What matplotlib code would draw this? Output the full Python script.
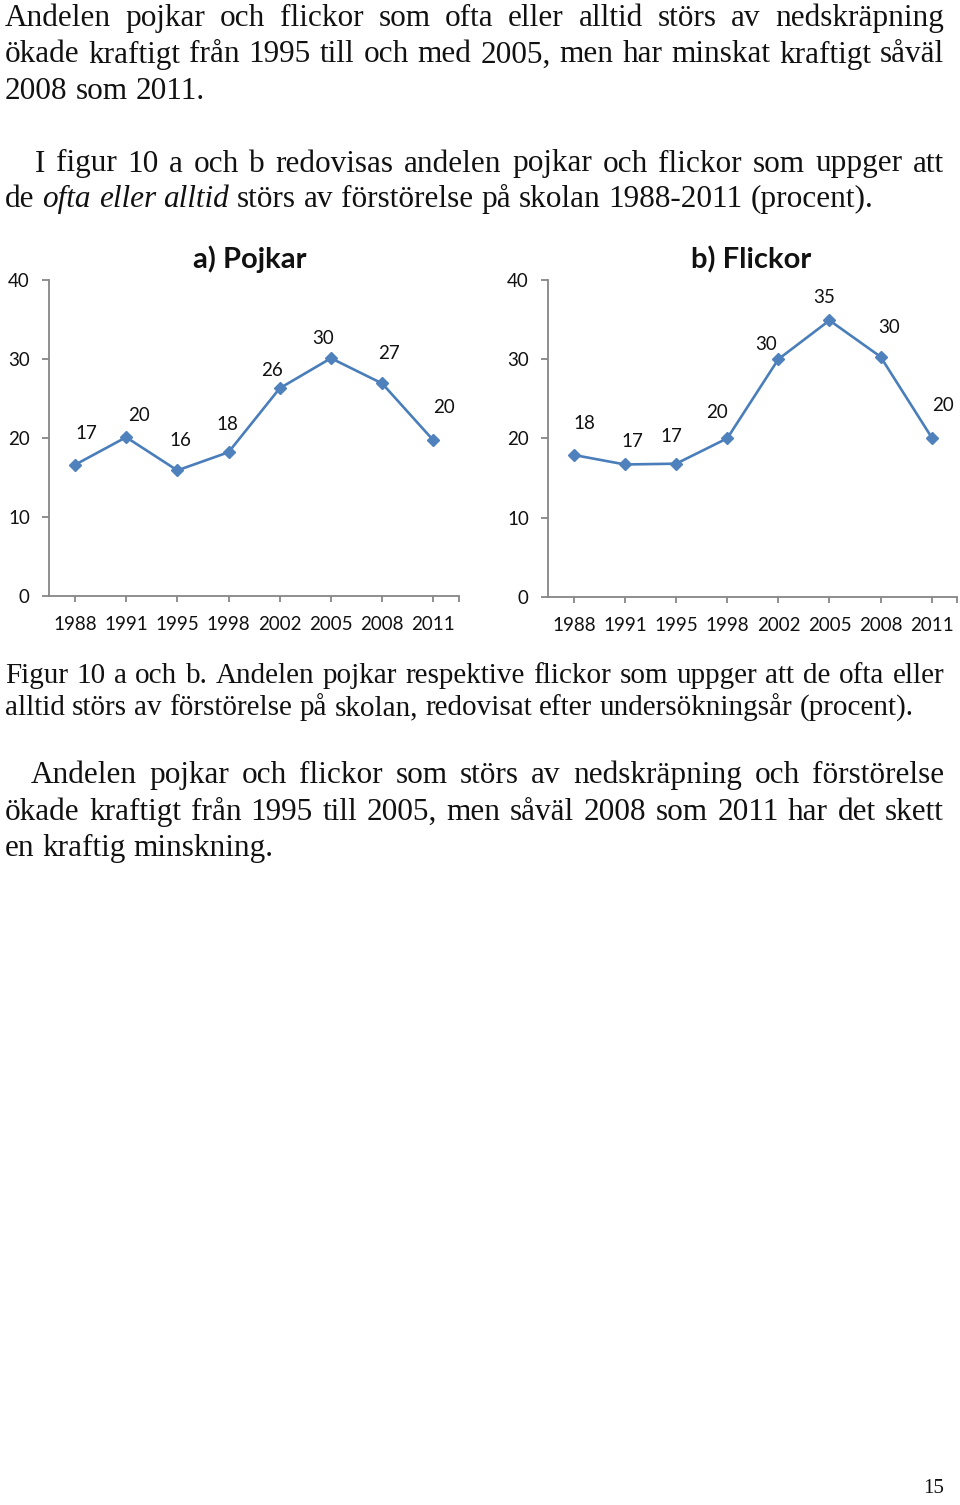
import numpy as np
import matplotlib
matplotlib.use("Agg")
import matplotlib.pyplot as plt

# data
years = ["1988", "1991", "1995", "1998", "2002", "2005", "2008", "2011"]
pojkar = [16.6, 20.1, 15.9, 18.2, 26.3, 30.1, 26.9, 19.7]
flickor = [17.9, 16.7, 16.8, 20.0, 30.0, 34.9, 30.3, 20.1]
pojkar_labels = ["17", "20", "16", "18", "26", "30", "27", "20"]
flickor_labels = ["18", "17", "17", "20", "30", "35", "30", "20"]
y_ticks = [0, 10, 20, 30, 40]

# page text, one entry per printed line
para1 = ["Andelen pojkar och flickor som ofta eller alltid störs av nedskräpning",
         "ökade kraftigt från 1995 till och med 2005, men har minskat kraftigt såväl",
         "2008 som 2011."]
para2 = ["I figur 10 a och b redovisas andelen pojkar och flickor som uppger att",
         "de *ofta eller alltid* störs av förstörelse på skolan 1988-2011 (procent)."]
caption = ["Figur 10 a och b. Andelen pojkar respektive flickor som uppger att de ofta eller",
           "alltid störs av förstörelse på skolan, redovisat efter undersökningsår (procent)."]
para3 = ["Andelen pojkar och flickor som störs av nedskräpning och förstörelse",
         "ökade kraftigt från 1995 till 2005, men såväl 2008 som 2011 har det skett",
         "en kraftig minskning."]

# label offsets in pixels (dx, up) from each marker
pojkar_off = [(11, 30), (13, 20), (3, 28), (-1, 26), (-8, 16), (-8, 18), (7, 28), (11, 31)]
flickor_off = [(11, 30), (7, 21), (-5, 26), (-10, 24), (-12, 13), (-5, 21), (8, 28), (11, 31)]

W, H = 960, 1505
SERIF = "Liberation Serif"
SANS = "Lato"
INK = "#111111"
BLUE = "#4A7EBB"
GRAY = "#868686"

fig = plt.figure(figsize=(W / 100, H / 100), dpi=100)
renderer = fig.canvas.get_renderer()


def tokens(line):
    out = []
    italic = False
    for w in line.split(" "):
        if w.startswith("*"):
            italic = True
        end = w.endswith("*")
        out.append((w.strip("*"), "italic" if italic else "normal"))
        if end:
            italic = False
    return out


def text_line(line, x0, x1, y, size, justify):
    items = []
    for word, style in tokens(line):
        t = fig.text(x0 / W, 1 - y / H, word, fontsize=size, family=SERIF,
                     style=style, va="baseline", ha="left", color=INK)
        items.append(t)
    widths = [t.get_window_extent(renderer).width for t in items]
    if justify and len(items) > 1:
        gap = (x1 - x0 - sum(widths)) / (len(items) - 1)
    else:
        gap = 0.25 * size * 100 / 72
    x = x0
    for t, w in zip(items, widths):
        t.set_x(x / W)
        x += w + gap


def paragraph(lines, baselines, indent, size, x0=5, x1=944):
    for i, (line, y) in enumerate(zip(lines, baselines)):
        left = x0 + indent if i == 0 else x0
        text_line(line, left, x1, y, size, i < len(lines) - 1)


paragraph(para1, [26, 62.5, 99], 0, 22.5)
paragraph(para2, [171.5, 207], 30, 22.5)
paragraph(caption, [683, 715], 0, 21)
paragraph(para3, [783, 820, 856], 26, 22.5)
fig.text(944 / W, 1 - 1493 / H, "15", fontsize=15, family=SERIF, color=INK,
         ha="right", va="baseline")


def chart(left, right, top, bottom, values, labels, offsets, title, title_x):
    ax = fig.add_axes([left / W, 1 - bottom / H, (right - left) / W, (bottom - top) / H])
    x = np.arange(len(years))
    ax.plot(x, values, color=BLUE, lw=1.9, marker="D", ms=6.5,
            markerfacecolor="#4F81BD", markeredgecolor="#4F81BD", clip_on=False)
    for xi, v, lab, (dx, dy) in zip(x, values, labels, offsets):
        ax.annotate(lab, (xi, v), xytext=(dx * 0.72, (dy + 1.5) * 0.72),
                    textcoords="offset points", ha="center", va="center",
                    fontsize=13.5, family=SANS, color=INK)
    ax.set_xlim(-0.5, len(years) - 0.5)
    ax.set_ylim(0, 40)
    ax.set_xticks(x)
    ax.set_xticklabels(years)
    ax.set_xticks([len(years) - 0.5], minor=True)
    ax.set_yticks(y_ticks)
    for s in ["top", "right"]:
        ax.spines[s].set_visible(False)
    for s in ["left", "bottom"]:
        ax.spines[s].set_color(GRAY)
        ax.spines[s].set_linewidth(1.3)
    ax.tick_params(axis="x", which="both", length=4.3, width=1.3, color=GRAY,
                   pad=10, labelsize=13.5, labelcolor=INK)
    ax.tick_params(axis="y", length=5, width=1.3, color=GRAY, pad=9,
                   labelsize=13.5, labelcolor=INK)
    for lab in ax.get_xticklabels() + ax.get_yticklabels():
        lab.set_family(SANS)
    ax.set_title(title, fontsize=21, fontweight="bold", family=SANS, pad=8.6,
                 color=INK, x=title_x)
    ax.patch.set_alpha(0)
    return ax


chart(49.3, 459, 280, 596, pojkar, pojkar_labels, pojkar_off, "a) Pojkar", 0.49)
chart(548.3, 957.3, 280, 596.7, flickor, flickor_labels, flickor_off, "b) Flickor", 0.497)

fig.savefig("out.png", dpi=100)
